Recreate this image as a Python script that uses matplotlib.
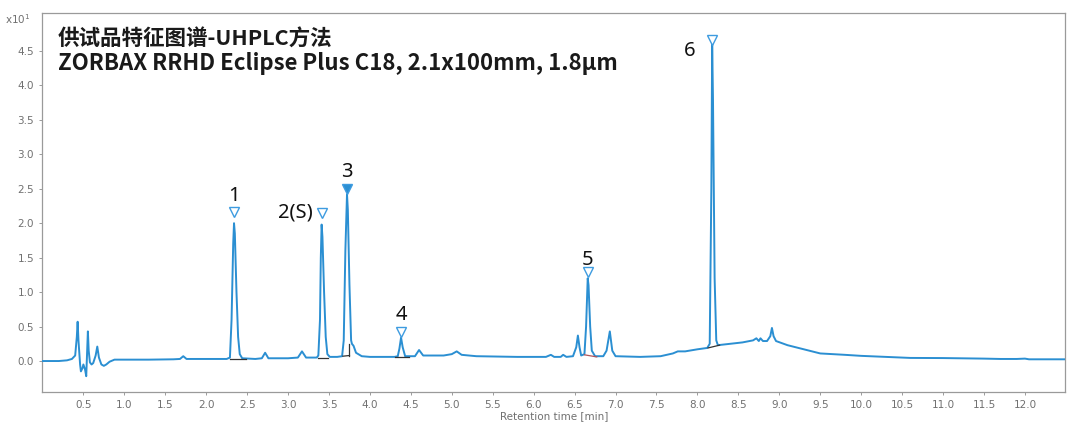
import numpy as np
import matplotlib.pyplot as plt

# chromatogram trace (time in min, signal x10)
trace_t = [0.00, 0.20, 0.30, 0.36, 0.40, 0.42, 0.43, 0.44, 0.46, 0.47, 0.49, 0.50,
           0.52, 0.535, 0.545, 0.555, 0.565, 0.58, 0.60, 0.62, 0.65, 0.67, 0.69,
           0.72, 0.75, 0.78, 0.82, 0.88, 1.00, 1.30, 1.60, 1.68, 1.72, 1.76, 2.00,
           2.25, 2.29, 2.31, 2.33, 2.34, 2.35, 2.37, 2.39, 2.41, 2.44, 2.60, 2.68,
           2.72, 2.76, 3.00, 3.12, 3.17, 3.22, 3.35, 3.37, 3.39, 3.40, 3.41, 3.42,
           3.44, 3.46, 3.48, 3.51, 3.60, 3.66, 3.68, 3.70, 3.72, 3.73, 3.75, 3.77,
           3.78, 3.80, 3.83, 3.90, 4.00, 4.30, 4.34, 4.36, 4.38, 4.40, 4.43, 4.55,
           4.60, 4.65, 4.90, 5.00, 5.06, 5.12, 5.30, 5.80, 6.15, 6.21, 6.25, 6.33,
           6.36, 6.40, 6.48, 6.52, 6.54, 6.56, 6.58, 6.62, 6.64, 6.66, 6.67, 6.69,
           6.71, 6.75, 6.85, 6.89, 6.93, 6.96, 7.00, 7.30, 7.55, 7.70, 7.76, 7.85,
           8.00, 8.12, 8.15, 8.17, 8.18, 8.19, 8.21, 8.23, 8.25, 8.40, 8.55, 8.68,
           8.72, 8.75, 8.77, 8.80, 8.85, 8.89, 8.91, 8.93, 8.96, 9.10, 9.30, 9.50,
           9.80, 10.00, 10.30, 10.60, 11.00, 11.50, 11.70, 11.90, 12.00, 12.05, 12.49]
trace_y = [0.00, 0.00, 0.01, 0.03, 0.08, 0.35, 0.57, 0.30, -0.05, -0.15, -0.10, -0.05,
           -0.12, -0.22, 0.10, 0.43, 0.15, -0.02, -0.05, -0.03, 0.08, 0.21, 0.05,
           -0.05, -0.07, -0.05, -0.01, 0.02, 0.02, 0.02, 0.025, 0.03, 0.07, 0.03, 0.03,
           0.03, 0.05, 0.60, 1.70, 2.00, 1.85, 1.00, 0.35, 0.10, 0.04, 0.03, 0.04,
           0.12, 0.04, 0.04, 0.05, 0.14, 0.05, 0.05, 0.08, 0.60, 1.50, 1.98, 1.80,
           1.00, 0.35, 0.10, 0.06, 0.06, 0.07, 0.30, 1.60, 2.42, 2.20, 1.10, 0.30,
           0.25, 0.22, 0.12, 0.07, 0.06, 0.06, 0.07, 0.18, 0.34, 0.20, 0.07, 0.07,
           0.16, 0.08, 0.08, 0.10, 0.14, 0.09, 0.07, 0.06, 0.06, 0.09, 0.06, 0.06,
           0.09, 0.06, 0.07, 0.20, 0.37, 0.20, 0.08, 0.10, 0.50, 1.20, 1.10, 0.50,
           0.15, 0.07, 0.07, 0.15, 0.43, 0.15, 0.07, 0.06, 0.07, 0.11, 0.14, 0.14,
           0.17, 0.19, 0.25, 2.50, 4.60, 3.80, 1.20, 0.30, 0.23, 0.25, 0.27, 0.30,
           0.33, 0.29, 0.33, 0.29, 0.29, 0.36, 0.48, 0.36, 0.29, 0.23, 0.17, 0.11,
           0.09, 0.075, 0.06, 0.045, 0.043, 0.035, 0.03, 0.03, 0.035, 0.025, 0.025]

# labelled peaks
peak_labels = ['1', '2(S)', '3', '4', '5', '6']
peak_times = [2.34, 3.41, 3.72, 4.38, 6.66, 8.18]
peak_heights = [2.16, 2.15, 2.50, 0.42, 1.29, 4.66]

# integration baselines (start, end, y start, y end)
base_start = [2.29, 3.37, 3.67, 4.31, 6.62, 8.13]
base_end = [2.49, 3.49, 3.75, 4.48, 6.77, 8.27]
base_y0 = [0.03, 0.05, 0.07, 0.06, 0.09, 0.19]
base_y1 = [0.03, 0.05, 0.08, 0.06, 0.06, 0.23]
base_colors = ['#333333', '#333333', '#333333', '#333333', '#b0555a', '#333333']

title_lines = ['供试品特征图谱-UHPLC方法',
               'ZORBAX RRHD Eclipse Plus C18, 2.1x100mm, 1.8µm']

line_color = '#2b8fd2'
axis_gray = '#9a9a9a'
text_gray = '#707070'

fig = plt.figure(figsize=(10.77, 4.24), dpi=100)
ax = fig.add_axes([0.0394, 0.0762, 0.9495, 0.8931])

ax.plot(trace_t, trace_y, color=line_color, linewidth=1.4, zorder=3)

for x0, x1, y0, y1, c in zip(base_start, base_end, base_y0, base_y1, base_colors):
    ax.plot([x0, x1], [y0, y1], color=c, linewidth=0.9, zorder=4)
# drop line at the end of peak 3
ax.plot([base_end[2], base_end[2]], [base_y1[2], 0.24], color='#333333',
        linewidth=0.9, zorder=4)

label_offsets = [(0, 12), (-19, 0), (0, 12), (0, 12), (0, 9), (-16, -8)]
for i, (t, h, lab) in enumerate(zip(peak_times, peak_heights, peak_labels)):
    filled = (lab == '3')
    ax.plot(t, h, marker='v', markersize=6.5, markeredgewidth=1.0,
            markeredgecolor='#3d9be0',
            markerfacecolor='#2b8fd2' if filled else 'white', zorder=5)
    ax.annotate(lab, (t, h), xytext=label_offsets[i], textcoords='offset points',
                ha='center', va='center', fontsize=14.5,
                family=['Noto Sans', 'DejaVu Sans'], color='#111111')

ax.set_xlim(0, 12.49)
ax.set_ylim(-0.445, 5.05)
ax.set_xticks(np.arange(0.5, 12.01, 0.5))
ax.set_xticklabels([f'{v:.1f}' for v in np.arange(0.5, 12.01, 0.5)])
ax.set_yticks(np.arange(0, 4.51, 0.5))
ax.set_yticklabels([f'{v:.1f}' for v in np.arange(0, 4.51, 0.5)])
ax.tick_params(axis='both', labelsize=7.5, labelcolor=text_gray, color=axis_gray,
               length=2.5, width=0.7)
for side in ['left', 'right', 'top', 'bottom']:
    ax.spines[side].set_color(axis_gray)
    ax.spines[side].set_linewidth(0.9)
ax.set_xlabel('Retention time [min]', fontsize=7.5, color=text_gray, labelpad=1)

fig.text(0.005, 0.955, r'x10$^{1}$', fontsize=7.5, color=text_gray, va='center')

title_sizes = [15.5, 16]
for k, line in enumerate(title_lines):
    ax.text(0.015, 0.93 - k * 0.063, line, transform=ax.transAxes,
            fontsize=title_sizes[k], fontweight='bold',
            family=['Noto Sans CJK SC', 'DejaVu Sans'],
            color='#1a1a1a', va='center', ha='left')

fig.savefig('out.png', dpi=100)
